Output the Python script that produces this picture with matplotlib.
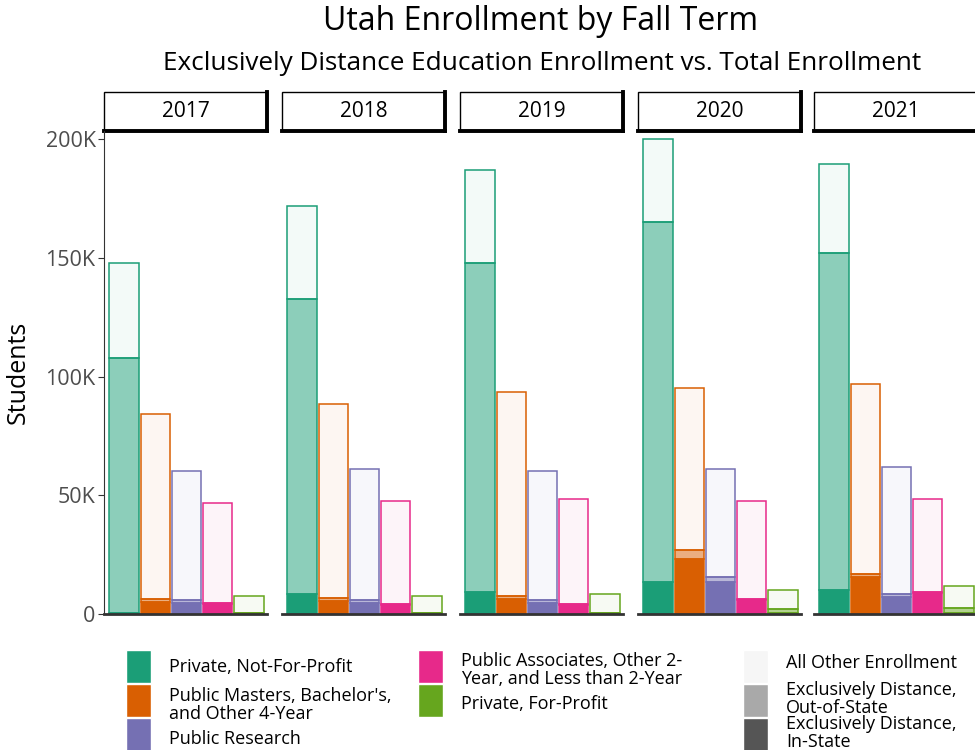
import matplotlib
matplotlib.use("Agg")
import matplotlib.pyplot as plt
import numpy as np
from matplotlib.patches import Rectangle
from matplotlib.lines import Line2D

plt.rcParams["font.family"] = ["Open Sans", "DejaVu Sans"]

YEARS = ["2017", "2018", "2019", "2020", "2021"]
CATEGORIES = [
    "Private, Not-For-Profit",
    "Public Masters, Bachelor's,\nand Other 4-Year",
    "Public Research",
    "Public Associates, Other 2-\nYear, and Less than 2-Year",
    "Private, For-Profit",
]
COLORS = ["#1B9E77", "#D95F02", "#7570B3", "#E7298A", "#66A61E"]

# thousands of students, rows = category, cols = year
TOTAL = [
    [147.8, 171.8, 187.0, 200.0, 189.5],
    [84.2, 88.4, 93.5, 95.2, 96.8],
    [60.2, 61.0, 60.2, 61.0, 61.9],
    [46.7, 47.6, 48.4, 47.6, 48.4],
    [7.6, 7.6, 8.4, 10.1, 11.8],
]
IN_STATE = [
    [0.4, 8.4, 9.3, 13.5, 10.1],
    [5.0, 5.5, 6.5, 23.2, 15.5],
    [4.5, 4.5, 4.5, 13.5, 7.0],
    [4.2, 4.0, 4.0, 5.9, 8.8],
    [0.3, 0.3, 0.3, 0.3, 0.3],
]
OUT_STATE = [
    [107.4, 124.2, 138.5, 151.5, 141.9],
    [1.2, 1.2, 1.0, 3.6, 1.2],
    [1.3, 1.5, 1.5, 2.2, 1.3],
    [0.3, 0.3, 0.3, 0.3, 0.3],
    [0.3, 0.3, 0.3, 2.0, 2.2],
]

SEGMENTS = ["Exclusively Distance,\nIn-State", "Exclusively Distance,\nOut-of-State", "All Other Enrollment"]
SEG_ALPHA = [1.0, 0.5, 0.05]

W, H = 975, 750
fig = plt.figure(figsize=(W / 100, H / 100), dpi=100)


def fx(px):
    return px / W


def fy(py):
    return 1 - py / H


panel_left = [104, 282, 460, 638, 814]
panel_w, top, bottom = 163, 131, 614
strip_h = 39

total = np.array(TOTAL) * 1000
in_state = np.array(IN_STATE) * 1000
out_state = np.array(OUT_STATE) * 1000
other = total - in_state - out_state

for j, year in enumerate(YEARS):
    ax = fig.add_axes([fx(panel_left[j]), fy(bottom), fx(panel_w), (bottom - top) / H])
    x = np.arange(len(CATEGORIES))
    for i, c in enumerate(COLORS):
        base = 0
        for vals, a in zip([in_state, out_state, other], SEG_ALPHA):
            v = vals[i, j]
            ax.bar(x[i], v, bottom=base, width=0.94, color=matplotlib.colors.to_rgba(c, a),
                   edgecolor=c, linewidth=1.1)
            base += v
    ax.set_xlim(-0.64, 4.58)
    ax.set_ylim(0, 203400)
    ax.set_xticks([])
    for s in ["top", "right"]:
        ax.spines[s].set_visible(False)
    ax.spines["bottom"].set_linewidth(2)
    ax.spines["bottom"].set_color("#333333")
    if j == 0:
        ax.set_yticks([0, 50000, 100000, 150000, 200000])
        ax.set_yticklabels(["0", "50K", "100K", "150K", "200K"], fontsize=15.5, color="#4d4d4d")
        ax.tick_params(axis="y", length=4, color="#333333", pad=2)
        ax.spines["left"].set_color("#333333")
        ax.set_ylabel("Students", fontsize=18)
        ax.yaxis.set_label_coords((31 - panel_left[0]) / panel_w, 0.5)
    else:
        ax.spines["left"].set_visible(False)
        ax.set_yticks([])

    sh = strip_h / (bottom - top)
    ax.add_patch(Rectangle((0, 1), 1, sh, transform=ax.transAxes, facecolor="white",
                           edgecolor="black", linewidth=1, clip_on=False))
    ax.add_line(Line2D([1, 1], [1, 1 + sh], transform=ax.transAxes, color="black", lw=2.8, clip_on=False))
    ax.add_line(Line2D([0, 1], [1, 1], transform=ax.transAxes, color="black", lw=2.8, clip_on=False))
    ax.text(0.5, 1 + sh / 2, year, transform=ax.transAxes, ha="center", va="center", fontsize=15)

fig.text(fx(541), fy(22), "Utah Enrollment by Fall Term", ha="center", va="center", fontsize=23)
fig.text(fx(542), fy(64), "Exclusively Distance Education Enrollment vs. Total Enrollment",
         ha="center", va="center", fontsize=18.8)


def swatch(px, py, color, label, ty=None):
    fig.add_artist(Rectangle((fx(px), fy(py + 33)), fx(25), 33 / H, transform=fig.transFigure,
                             facecolor=color, edgecolor="white", linewidth=1))
    fig.text(fx(px + 43), fy(ty if ty is not None else py + 17), label, ha="left", va="center",
             fontsize=13, linespacing=1.0)


leg_rows = [650, 684, 718]
swatch(126, leg_rows[0], COLORS[0], CATEGORIES[0], 667)
swatch(126, leg_rows[1], COLORS[1], CATEGORIES[1], 705)
swatch(126, leg_rows[2], COLORS[2], CATEGORIES[2], 739)
swatch(418, leg_rows[0], COLORS[3], CATEGORIES[3], 670)
swatch(418, leg_rows[1], COLORS[4], CATEGORIES[4], 704)
gray = "#555555"
swatch(743, leg_rows[0], matplotlib.colors.to_rgba(gray, 0.05), SEGMENTS[2], 663)
swatch(743, leg_rows[1], matplotlib.colors.to_rgba(gray, 0.5), SEGMENTS[1], 699)
swatch(743, leg_rows[2], gray, SEGMENTS[0], 733)

fig.savefig("out.png", dpi=100)
